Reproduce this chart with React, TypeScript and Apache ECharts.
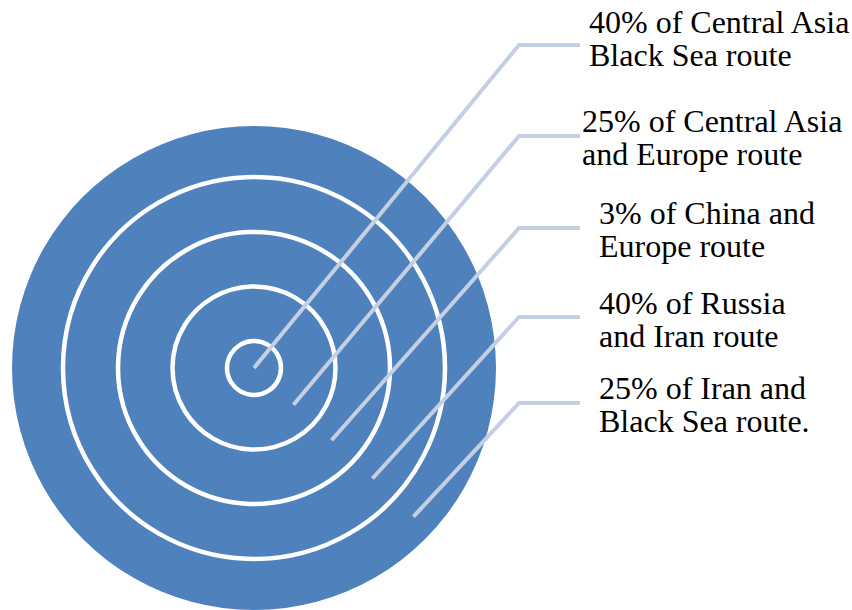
import React, { useEffect, useRef } from "react";
import * as echarts from "echarts";

// Labels for each ring (inner to outer)
const labels: string[] = [
  "40% of Central Asia\nBlack Sea route",
  "25% of Central Asia\nand Europe route",
  "3% of China and\nEurope route",
  "40% of Russia\nand Iran route",
  "25% of Iran and\nBlack Sea route.",
];

// Ring boundary radii (white separators) and outer disc radius, px
const ringRadii: number[] = [27, 81.5, 136, 191];
const outerRadius = 242;
// distance of each leader line's start from the center, px
const leaderStart: number[] = [0, 54, 106, 162, 218];
// layout of leader elbows and text blocks
const elbowY: number[] = [45, 136, 228, 317, 403];
const textCenterY: number[] = [38.5, 137, 229.5, 319.5, 404.5];
const textX: number[] = [589, 582, 599, 599, 599];

const CX = 254;
const CY = 368;
const ELBOW_X = 519;
const END_X = 580;
const ANGLE = (43 * Math.PI) / 180;

const BLUE = "#4f81bd";
const LEADER = "#c5cfe3";

export default function App() {
  const ref = useRef<HTMLDivElement>(null);
  useEffect(() => {
    if (!ref.current) return;
    const chart = echarts.init(ref.current, undefined, { renderer: "svg" });
    const elements: any[] = [];
    elements.push({
      type: "circle",
      shape: { cx: CX, cy: CY, r: outerRadius },
      style: { fill: BLUE },
      z: 1,
    });
    ringRadii.forEach((r) => {
      elements.push({
        type: "circle",
        shape: { cx: CX, cy: CY, r },
        style: { fill: "none", stroke: "#ffffff", lineWidth: 4.5 },
        z: 2,
      });
    });
    labels.forEach((txt, i) => {
      const d = leaderStart[i];
      const sx = CX + d * Math.cos(ANGLE);
      const sy = CY + d * Math.sin(ANGLE);
      elements.push({
        type: "polyline",
        shape: {
          points: [
            [sx, sy],
            [ELBOW_X, elbowY[i]],
            [END_X, elbowY[i]],
          ],
        },
        style: { stroke: LEADER, lineWidth: 4, fill: "none", lineJoin: "miter" },
        z: 3,
      });
      elements.push({
        type: "text",
        x: textX[i],
        y: textCenterY[i],
        style: {
          text: txt,
          fill: "#000000",
          fontSize: 32,
          fontFamily: "Liberation Serif",
          lineHeight: 33,
          align: "left",
          verticalAlign: "middle",
        },
        z: 4,
      });
    });
    chart.setOption({
      animation: false,
      backgroundColor: "#ffffff",
      graphic: { elements },
    });
    return () => chart.dispose();
  }, []);
  return (
    <div
      ref={ref}
      style={{ position: "fixed", left: 0, top: 0, width: 852, height: 610 }}
    />
  );
}
